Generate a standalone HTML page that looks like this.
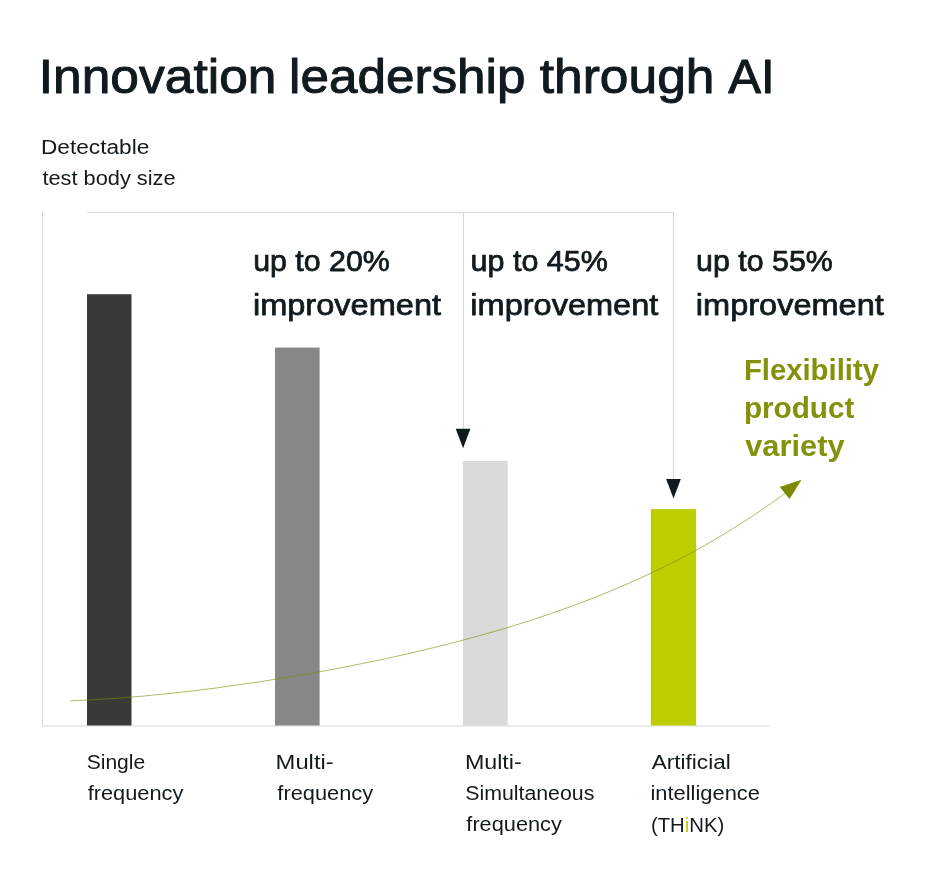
<!DOCTYPE html>
<html lang="en">
<head>
<meta charset="utf-8">
<title>Innovation leadership through AI</title>
<style>
html,body{margin:0;padding:0;background:#fff;}
body{width:940px;height:872px;overflow:hidden;}
svg{display:block;}
svg text{font-family:"Liberation Sans",sans-serif;stroke-linejoin:round;}
</style>
</head>
<body>
<svg width="940" height="872" viewBox="0 0 940 872">
<rect width="940" height="872" fill="#ffffff"/>
<!-- axes -->
<g fill="#d6d8da">
<rect x="42" y="211" width="1" height="515.5"/>
<rect x="42" y="725.45" width="727.4" height="1"/>
<rect x="86.8" y="212.1" width="587.2" height="1"/>
<rect x="463" y="212" width="1" height="218"/>
<rect x="673" y="212" width="1" height="268"/>
</g>
<!-- bars -->
<rect x="87" y="294.2" width="44.5" height="431.3" fill="#393937"/>
<rect x="275" y="347.6" width="44.6" height="377.9" fill="#878787"/>
<rect x="463" y="461" width="44.7" height="264.5" fill="#dadada"/>
<rect x="650.8" y="509.1" width="45.3" height="216.4" fill="#bdcf00"/>
<!-- arrows -->
<polygon points="455.7,428.7 470.4,428.7 463.1,448.3" fill="#111a1e"/>
<polygon points="666.1,479 680.8,479 673.5,498.5" fill="#111a1e"/>
<!-- curve -->
<path d="M70.3,700.9 L82.4,700.3 L94.6,699.7 L106.7,698.9 L118.8,698.1 L131.0,697.1 L143.1,696.1 L155.2,694.9 L167.3,693.7 L179.5,692.4 L191.6,691.0 L203.7,689.5 L215.9,688.0 L228.0,686.3 L240.1,684.6 L252.3,682.9 L264.4,681.0 L276.5,679.1 L288.6,677.1 L300.8,675.1 L312.9,673.0 L325.0,670.8 L337.2,668.5 L349.3,666.2 L361.4,663.7 L373.6,661.2 L385.7,658.7 L397.8,656.0 L410.0,653.3 L422.1,650.4 L434.2,647.5 L446.3,644.5 L458.5,641.4 L470.6,638.1 L482.7,634.8 L494.9,631.3 L507.0,627.7 L519.1,624.0 L531.3,620.1 L543.4,616.1 L555.5,612.0 L567.7,607.7 L579.8,603.2 L591.9,598.6 L604.0,593.7 L616.2,588.7 L628.3,583.5 L640.4,578.1 L652.6,572.4 L664.7,566.5 L676.8,560.4 L689.0,554.1 L701.1,547.4 L713.2,540.5 L725.3,533.3 L737.5,525.8 L749.6,518.0 L761.7,509.9 L773.9,501.4 L786.0,492.6" fill="none" stroke="#7d8a00" stroke-width="1" stroke-opacity="0.6"/>
<polygon points="801.5,479.8 779.8,487 789.6,499" fill="#7d8a00"/>
<!-- text -->
<text x="38.75" y="93.0" font-size="49" font-weight="400" fill="#111a1e" textLength="237.70" lengthAdjust="spacingAndGlyphs" stroke="#111a1e" stroke-width="1.0">Innovation</text>
<text x="289.00" y="93.0" font-size="49" font-weight="400" fill="#111a1e" textLength="236.45" lengthAdjust="spacingAndGlyphs" stroke="#111a1e" stroke-width="1.0">leadership</text>
<text x="539.75" y="93.0" font-size="49" font-weight="400" fill="#111a1e" textLength="174.70" lengthAdjust="spacingAndGlyphs" stroke="#111a1e" stroke-width="1.0">through</text>
<text x="728.25" y="93.0" font-size="49" font-weight="400" fill="#111a1e" textLength="46.35" lengthAdjust="spacingAndGlyphs" stroke="#111a1e" stroke-width="1.0">AI</text>
<text x="40.95" y="154.3" font-size="20" font-weight="400" fill="#111a1e" textLength="108.35" lengthAdjust="spacingAndGlyphs">Detectable</text>
<text x="42.45" y="185.4" font-size="20" font-weight="400" fill="#111a1e" textLength="133.15" lengthAdjust="spacingAndGlyphs">test body size</text>
<text x="253.20" y="271.3" font-size="30" font-weight="400" fill="#111a1e" textLength="136.65" lengthAdjust="spacingAndGlyphs" stroke="#111a1e" stroke-width="0.75">up to 20%</text>
<text x="252.95" y="315" font-size="30" font-weight="400" fill="#111a1e" textLength="188.10" lengthAdjust="spacingAndGlyphs" stroke="#111a1e" stroke-width="0.75">improvement</text>
<text x="470.60" y="271.3" font-size="30" font-weight="400" fill="#111a1e" textLength="137.25" lengthAdjust="spacingAndGlyphs" stroke="#111a1e" stroke-width="0.75">up to 45%</text>
<text x="470.35" y="315" font-size="30" font-weight="400" fill="#111a1e" textLength="188.00" lengthAdjust="spacingAndGlyphs" stroke="#111a1e" stroke-width="0.75">improvement</text>
<text x="696.10" y="271.3" font-size="30" font-weight="400" fill="#111a1e" textLength="136.75" lengthAdjust="spacingAndGlyphs" stroke="#111a1e" stroke-width="0.75">up to 55%</text>
<text x="695.85" y="315" font-size="30" font-weight="400" fill="#111a1e" textLength="188.00" lengthAdjust="spacingAndGlyphs" stroke="#111a1e" stroke-width="0.75">improvement</text>
<text x="743.90" y="379.9" font-size="29.6" font-weight="700" fill="#84910a" textLength="135.05" lengthAdjust="spacingAndGlyphs">Flexibility</text>
<text x="743.90" y="418.2" font-size="29.6" font-weight="700" fill="#84910a" textLength="110.50" lengthAdjust="spacingAndGlyphs">product</text>
<text x="745.25" y="455.7" font-size="29.6" font-weight="700" fill="#84910a" textLength="99.30" lengthAdjust="spacingAndGlyphs">variety</text>
<text x="86.70" y="769.3" font-size="20" font-weight="400" fill="#111a1e" textLength="58.50" lengthAdjust="spacingAndGlyphs">Single</text>
<text x="87.65" y="800.2" font-size="20" font-weight="400" fill="#111a1e" textLength="95.80" lengthAdjust="spacingAndGlyphs">frequency</text>
<text x="275.60" y="769.3" font-size="20" font-weight="400" fill="#111a1e" textLength="58.10" lengthAdjust="spacingAndGlyphs">Multi-</text>
<text x="277.35" y="800.2" font-size="20" font-weight="400" fill="#111a1e" textLength="95.80" lengthAdjust="spacingAndGlyphs">frequency</text>
<text x="464.90" y="769.3" font-size="20" font-weight="400" fill="#111a1e" textLength="56.80" lengthAdjust="spacingAndGlyphs">Multi-</text>
<text x="465.20" y="800.2" font-size="20" font-weight="400" fill="#111a1e" textLength="129.15" lengthAdjust="spacingAndGlyphs">Simultaneous</text>
<text x="466.35" y="831.2" font-size="20" font-weight="400" fill="#111a1e" textLength="95.50" lengthAdjust="spacingAndGlyphs">frequency</text>
<text x="651.80" y="769.3" font-size="20" font-weight="400" fill="#111a1e" textLength="78.90" lengthAdjust="spacingAndGlyphs">Artificial</text>
<text x="650.50" y="800.2" font-size="20" font-weight="400" fill="#111a1e" textLength="109.40" lengthAdjust="spacingAndGlyphs">intelligence</text>
<text x="650.95" y="831.6" font-size="20" font-weight="400" fill="#111a1e" textLength="73.30" lengthAdjust="spacingAndGlyphs">(TH<tspan fill="#bdcf00">i</tspan>NK)</text>
</svg>
</body>
</html>
